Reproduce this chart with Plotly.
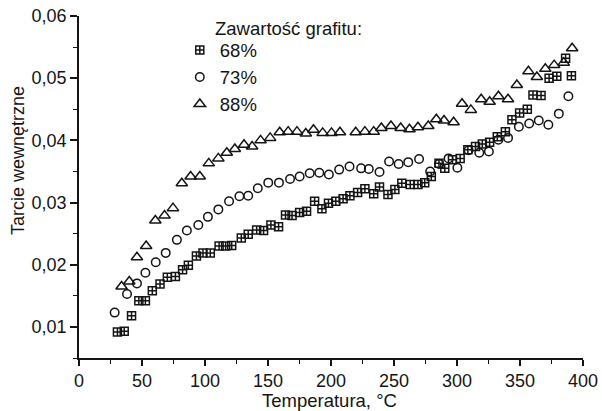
import plotly.graph_objects as go

# 68% graphite content (squares)
t68 = [30.5, 35.9, 41.7, 47.5, 52.7, 58.2, 64.3, 70.1, 76.5, 82.2, 86.8, 93.2, 98.4, 104.2,
       111.2, 116.4, 121.2, 128.8, 134.3, 141.0, 146.5, 152.3, 158.4, 163.9, 169.1, 175.1,
       180.6, 187.0, 192.8, 198.0, 203.8, 209.6, 215.0, 221.1, 226.9, 233.9, 238.5, 245.2,
       250.7, 256.2, 262.9, 269.0, 274.4, 279.6, 285.7, 290.3, 296.4, 302.5, 308.6, 314.7,
       320.1, 325.9, 332.0, 338.4, 343.6, 349.7, 355.8, 360.3, 366.7, 373.1, 379.2, 386.2, 390.8]
v68 = [0.0092, 0.0093, 0.0118, 0.0142, 0.0142, 0.0158, 0.0169, 0.0180, 0.0181, 0.0192,
       0.0199, 0.0214, 0.0219, 0.0219, 0.0230, 0.0230, 0.0231, 0.0243, 0.0249, 0.0256,
       0.0255, 0.0264, 0.0261, 0.0280, 0.0279, 0.0284, 0.0286, 0.0302, 0.0290, 0.0299,
       0.0302, 0.0306, 0.0311, 0.0316, 0.0322, 0.0314, 0.0325, 0.0313, 0.0321, 0.0331,
       0.0329, 0.0329, 0.0332, 0.0342, 0.0363, 0.0355, 0.0369, 0.0371, 0.0385, 0.0390,
       0.0394, 0.0397, 0.0406, 0.0414, 0.0433, 0.0444, 0.0450, 0.0473, 0.0472, 0.0500,
       0.0503, 0.0532, 0.0504]

# 73% graphite content (circles)
t73 = [28.3, 38.1, 46.0, 52.7, 60.9, 68.8, 77.7, 85.6, 94.7, 102.3, 110.6, 119.1, 127.3,
       134.3, 141.9, 150.2, 158.7, 167.5, 175.1, 183.1, 190.7, 198.3, 206.5, 214.7, 223.9,
       230.0, 238.5, 246.1, 253.7, 261.3, 269.9, 278.7, 285.7, 293.3, 300.3, 309.2, 317.7,
       325.3, 332.9, 340.5, 349.1, 357.3, 364.9, 372.5, 380.8, 388.4]
v73 = [0.0123, 0.0153, 0.0170, 0.0187, 0.0204, 0.0219, 0.0240, 0.0255, 0.0264, 0.0277,
       0.0289, 0.0302, 0.0310, 0.0311, 0.0323, 0.0332, 0.0332, 0.0338, 0.0342, 0.0347,
       0.0348, 0.0345, 0.0353, 0.0358, 0.0355, 0.0354, 0.0349, 0.0366, 0.0362, 0.0365,
       0.0370, 0.0350, 0.0362, 0.0371, 0.0356, 0.0384, 0.0380, 0.0382, 0.0401, 0.0404,
       0.0422, 0.0427, 0.0432, 0.0425, 0.0443, 0.0471]

# 88% graphite content (triangles)
t88 = [33.8, 39.9, 46.0, 53.3, 60.6, 67.9, 74.6, 81.6, 88.6, 95.9, 103.0, 110.6, 117.3,
       123.7, 131.0, 137.4, 144.1, 151.7, 159.3, 166.0, 173.0, 180.0, 186.1, 193.4, 200.4,
       207.1, 219.6, 226.9, 233.9, 240.0, 247.6, 255.3, 262.3, 269.0, 277.2, 283.6, 289.7,
       297.3, 304.0, 311.0, 319.2, 325.9, 332.9, 340.5, 347.5, 356.7, 363.4, 370.1, 377.1,
       384.7, 391.4]
v88 = [0.0165, 0.0173, 0.0212, 0.0230, 0.0271, 0.0279, 0.0291, 0.0331, 0.0342, 0.0342,
       0.0363, 0.0371, 0.0380, 0.0386, 0.0393, 0.0390, 0.0400, 0.0404, 0.0413, 0.0414,
       0.0414, 0.0411, 0.0417, 0.0412, 0.0412, 0.0413, 0.0413, 0.0414, 0.0414, 0.0420,
       0.0423, 0.0420, 0.0418, 0.0421, 0.0423, 0.0434, 0.0432, 0.0429, 0.0459, 0.0449,
       0.0466, 0.0462, 0.0471, 0.0466, 0.0489, 0.0511, 0.0502, 0.0515, 0.0521, 0.0525,
       0.0548]

labels = ["68%", "73%", "88%"]
legend_title = "Zawartość grafitu:"
x_title = "Temperatura, °C"
y_title = "Tarcie wewnętrzne"

FONT = "Liberation Sans, Arial, sans-serif"
INK = "#141414"

fig = go.Figure()
fig.add_trace(go.Scatter(x=t68, y=v68, mode="markers", name=labels[0],
                         marker=dict(symbol="square-cross-open", size=8, color=INK,
                                     line=dict(width=1.5, color=INK))))
fig.add_trace(go.Scatter(x=t73, y=v73, mode="markers", name=labels[1],
                         marker=dict(symbol="circle-open", size=8.5, color=INK,
                                     line=dict(width=1.5, color=INK))))
fig.add_trace(go.Scatter(x=t88, y=v88, mode="markers", name=labels[2],
                         marker=dict(symbol="triangle-up-open", size=10, color=INK,
                                     line=dict(width=1.5, color=INK))))

axis_common = dict(showline=True, linecolor=INK, linewidth=1.6, ticks="outside",
                   tickwidth=1.6, tickcolor=INK, showgrid=False, zeroline=False,
                   automargin=False,
                   tickfont=dict(family=FONT, size=18, color=INK), mirror=False)

fig.update_layout(
    width=602, height=411,
    margin=dict(l=79, r=19, t=16, b=53),
    plot_bgcolor="white", paper_bgcolor="white",
    separators=", ",
    showlegend=True,
    legend=dict(x=0.2, y=0.955, xanchor="left", yanchor="top",
                font=dict(family=FONT, size=18.5, color=INK),
                bgcolor="rgba(0,0,0,0)", itemwidth=30, tracegroupgap=0),
    xaxis=dict(range=[0, 400], dtick=50, tick0=0, ticklen=6,
               minor=dict(dtick=25, ticks="outside", ticklen=4, tickwidth=1.3, tickcolor=INK),
               **axis_common),
    yaxis=dict(range=[0.005, 0.06], dtick=0.01, tick0=0, tickformat=".2f", ticklen=7,
               minor=dict(dtick=0.005, ticks="outside", ticklen=4, tickwidth=1.3, tickcolor=INK),
               **axis_common),
    annotations=[
        dict(text=legend_title, xref="paper", yref="paper", x=0.266, y=1.0,
             xanchor="left", yanchor="top", showarrow=False,
             font=dict(family=FONT, size=18.5, color=INK)),
        dict(text=x_title, xref="paper", yref="paper", x=0.497, y=-0.125,
             xanchor="center", yanchor="middle", showarrow=False,
             font=dict(family=FONT, size=18.5, color=INK)),
        dict(text=y_title, xref="paper", yref="paper", x=-0.121, y=0.576,
             xanchor="center", yanchor="middle", showarrow=False, textangle=-90,
             font=dict(family=FONT, size=18, color=INK)),
    ],
)

fig.write_html("out.html")
